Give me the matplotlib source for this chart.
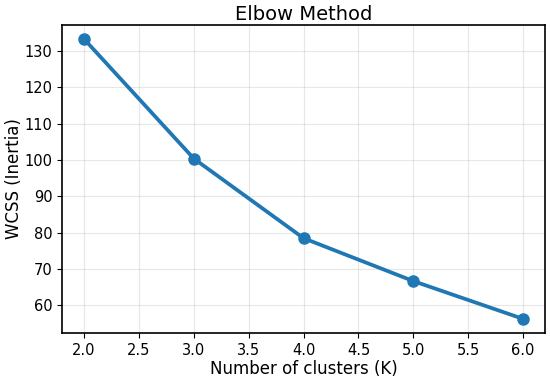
import matplotlib
matplotlib.use("Agg")
import matplotlib.pyplot as plt

k_values = [2, 3, 4, 5, 6]
wcss = [133.3, 100.4, 78.5, 66.7, 56.3]

fig, ax = plt.subplots(figsize=(5.5, 3.8), dpi=100)
ax.plot(k_values, wcss, marker='o', color='#1f77b4', linewidth=2.7, markersize=8)

ax.set_title("Elbow Method", fontsize=14, pad=4)
ax.set_xlabel("Number of clusters (K)", fontsize=12, labelpad=2)
ax.set_ylabel("WCSS (Inertia)", fontsize=12, labelpad=1)
ax.tick_params(labelsize=10.5)
ax.grid(True, alpha=0.3)
for s in ax.spines.values():
    s.set_linewidth(1.2)

plt.subplots_adjust(left=0.113, right=0.991, top=0.934, bottom=0.124)
plt.savefig("out.png")
